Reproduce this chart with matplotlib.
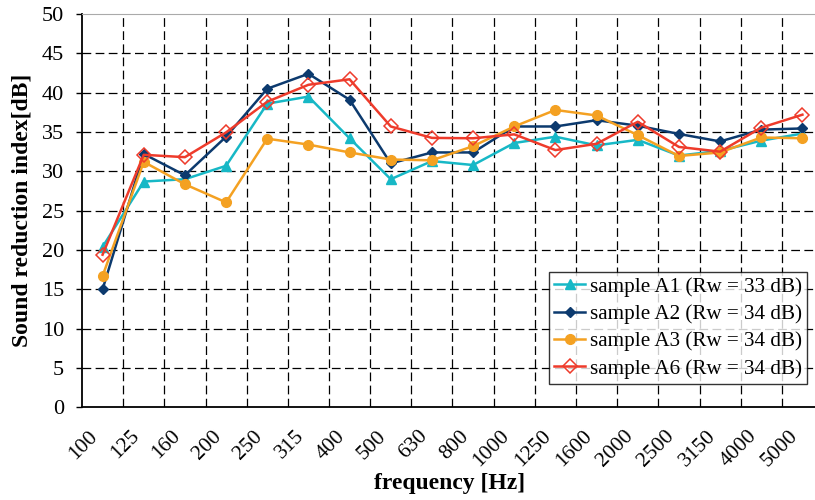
import matplotlib
matplotlib.use("Agg")
import matplotlib.pyplot as plt
from matplotlib.transforms import ScaledTranslation
import numpy as np

plt.rcParams['font.family'] = ['Liberation Serif', 'DejaVu Serif']

freqs = ['100', '125', '160', '200', '250', '315', '400', '500', '630', '800',
         '1000', '1250', '1600', '2000', '2500', '3150', '4000', '5000']

A1 = [20.4, 28.7, 29.0, 30.7, 38.6, 39.5, 34.2, 29.0, 31.3, 30.8,
      33.6, 34.4, 33.3, 34.0, 32.0, 32.6, 33.9, 34.8]
A2 = [15.0, 32.2, 29.5, 34.4, 40.5, 42.4, 39.1, 31.0, 32.4, 32.4,
      35.7, 35.7, 36.5, 35.8, 34.75, 33.8, 35.3, 35.45]
A3 = [16.7, 31.2, 28.35, 26.05, 34.15, 33.4, 32.4, 31.5, 31.4, 33.2,
      35.7, 37.8, 37.1, 34.6, 31.95, 32.4, 34.3, 34.2]
A6 = [19.4, 32.1, 31.8, 34.95, 38.85, 41.0, 41.7, 35.7, 34.25, 34.2,
      34.7, 32.7, 33.5, 36.3, 33.1, 32.5, 35.55, 37.2]

x = np.arange(len(freqs))

fig = plt.figure(figsize=(8.15, 5.0), dpi=100)
ax = fig.add_axes([82 / 815, 0.1854, 741 / 815, 0.7866])

# grid: horizontal at every 5 dB, vertical between the bands
for yv in range(5, 50, 5):
    ax.axhline(yv, color='k', lw=0.9, ls=(0, (7, 3.5)), zorder=1)
for xv in x[1:] - 0.5:
    ax.axvline(xv, color='k', lw=0.9, ls=(0, (7, 3.5)), zorder=1)

ax.plot(x, A1, color='#17b8c6', lw=1.8, marker='^', ms=7, label='sample A1 (Rw = 33 dB)', zorder=3)
ax.plot(x, A2, color='#0c3a6e', lw=1.8, marker='D', ms=5.5, label='sample A2 (Rw = 34 dB)', zorder=3)
ax.plot(x, A3, color='#f4a122', lw=1.8, marker='o', ms=7, label='sample A3 (Rw = 34 dB)', zorder=3)
ax.plot(x, A6, color='#ee3b2b', lw=1.8, marker='D', ms=7, mfc='none', mew=1.1,
        label='sample A6 (Rw = 34 dB)', zorder=4)

ax.set_xlim(-0.5, len(freqs) - 0.5)
ax.set_ylim(0, 50)
ax.set_yticks(range(0, 51, 5))
ax.set_xticks(x)
ax.set_xticklabels(freqs, rotation=45, ha='right', va='top', rotation_mode='anchor')
ax.tick_params(axis='x', length=0, pad=14, labelsize=15.5)
ax.tick_params(axis='y', length=4, width=1, direction='out', labelsize=16, pad=9)
shift = ScaledTranslation(-0.14, 0, fig.dpi_scale_trans)
for lab in ax.get_xticklabels():
    lab.set_transform(lab.get_transform() + shift)

ax.spines['top'].set_color('#aaaaaa')
ax.spines['right'].set_visible(False)
ax.spines['left'].set_linewidth(1.3)
ax.spines['bottom'].set_linewidth(1.3)

fig.text(450 / 815, 1 - 483 / 500, 'frequency [Hz]', fontsize=17, fontweight='bold',
         ha='center', va='center')
fig.text(22 / 815, 1 - 210 / 500, 'Sound reduction index[dB]', fontsize=17, fontweight='bold',
         ha='center', va='center', rotation=90)

leg = ax.legend(loc='lower left', bbox_to_anchor=((549 - 82) / 741, (407.3 - 384) / 393.3),
                fontsize=15.2, frameon=True, fancybox=False, handlelength=1.45,
                borderpad=0.25, labelspacing=0.36, handletextpad=0.25, borderaxespad=0)
leg.get_frame().set_edgecolor('k')
leg.get_frame().set_linewidth(1.0)

fig.savefig('out.png', dpi=100)
